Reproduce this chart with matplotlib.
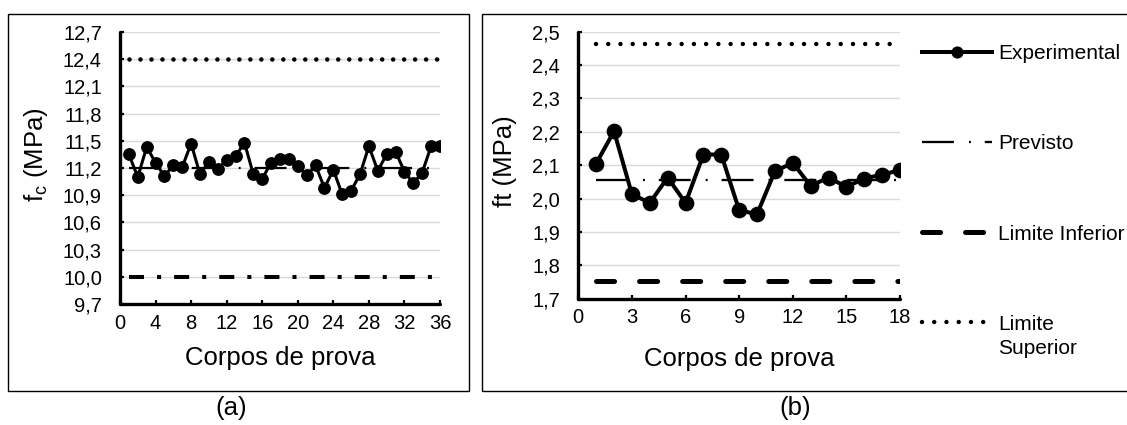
import matplotlib
matplotlib.use('Agg')
import matplotlib.pyplot as plt
from matplotlib.patches import Rectangle

plt.rcParams['font.family'] = ['Liberation Sans', 'DejaVu Sans']
plt.rcParams['mathtext.fontset'] = 'custom'
plt.rcParams['mathtext.rm'] = 'Liberation Sans'
plt.rcParams['mathtext.it'] = 'Liberation Sans:italic'
plt.rcParams['lines.scale_dashes'] = False

# ---------------- data: panel (a) ----------------
corpos_a = list(range(1, 37))
fc_exp = [11.35, 11.10, 11.43, 11.26, 11.11, 11.23, 11.21, 11.47, 11.13, 11.27,
          11.19, 11.29, 11.33, 11.48, 11.13, 11.08, 11.26, 11.30, 11.30, 11.22,
          11.12, 11.23, 10.98, 11.18, 10.91, 10.95, 11.13, 11.44, 11.17, 11.35,
          11.38, 11.16, 11.03, 11.15, 11.44, 11.44]
fc_previsto = 11.2
fc_lim_inf = 10.0
fc_lim_sup = 12.4
xticks_a = [0, 4, 8, 12, 16, 20, 24, 28, 32, 36]
yticks_a = [9.7, 10.0, 10.3, 10.6, 10.9, 11.2, 11.5, 11.8, 12.1, 12.4, 12.7]
ytick_labels_a = ['9,7', '10,0', '10,3', '10,6', '10,9', '11,2', '11,5', '11,8', '12,1', '12,4', '12,7']

# ---------------- data: panel (b) ----------------
corpos_b = list(range(1, 19))
ft_exp = [2.105, 2.202, 2.013, 1.987, 2.063, 1.987, 2.132, 2.132, 1.965, 1.953,
          2.082, 2.107, 2.038, 2.063, 2.035, 2.060, 2.072, 2.085]
ft_previsto = 2.055
ft_lim_inf = 1.752
ft_lim_sup = 2.463
xticks_b = [0, 3, 6, 9, 12, 15, 18]
yticks_b = [1.7, 1.8, 1.9, 2.0, 2.1, 2.2, 2.3, 2.4, 2.5]
ytick_labels_b = ['1,7', '1,8', '1,9', '2,0', '2,1', '2,2', '2,3', '2,4', '2,5']

labels_legend = ['Experimental', 'Previsto', 'Limite Inferior', 'Limite']
xlabel = 'Corpos de prova'

# ---------------- figure ----------------
W, H = 1127, 425
fig = plt.figure(figsize=(W / 100, H / 100), dpi=100)


def fx(px):
    return px / W


def fy(py):
    return 1 - py / H


def rect(x0, y0, x1, y1):
    return [fx(x0), fy(y1), fx(x1) - fx(x0), fy(y0) - fy(y1)]


ax_a = fig.add_axes(rect(120, 32, 440, 304))
ax_b = fig.add_axes(rect(578.3, 31.7, 900, 298.7))

TICK_FS = 14.5
LAB_FS = 18.5
LEG_FS = 15


def style_axes(ax, xlim, ylim, xticks, yticks, ylabels):
    ax.set_xlim(*xlim)
    ax.set_ylim(*ylim)
    ax.set_xticks(xticks)
    ax.set_xticklabels([str(t) for t in xticks])
    ax.set_yticks(yticks)
    ax.set_yticklabels(ylabels)
    for s in ['top', 'right']:
        ax.spines[s].set_visible(False)
    for s in ['left', 'bottom']:
        ax.spines[s].set_linewidth(2.4)
        ax.spines[s].set_color('black')
        ax.spines[s].set_capstyle('round')
    ax.tick_params(axis='both', direction='in', length=3.2, width=1.6,
                   labelsize=TICK_FS, color='black')
    ax.tick_params(axis='y', pad=13)
    ax.tick_params(axis='x', pad=7)
    ax.grid(axis='y', color='#d9d9d9', linewidth=1.0, zorder=0)
    ax.set_axisbelow(True)
    ax.set_xlabel(xlabel, fontsize=LAB_FS)


style_axes(ax_a, (0, 36), (9.7, 12.7), xticks_a, yticks_a, ytick_labels_a)
style_axes(ax_b, (0, 18), (1.7, 2.5), xticks_b, yticks_b, ytick_labels_b)

ax_a.set_ylabel(r'f$_{\mathrm{c}}$ (MPa)', fontsize=LAB_FS)
ax_b.set_ylabel('ft (MPa)', fontsize=LAB_FS)
ax_a.yaxis.set_label_coords(-0.22, 0.55)
ax_b.yaxis.set_label_coords(-0.19, 0.515)
ax_a.xaxis.set_label_coords(0.5, -0.155)
ax_b.xaxis.set_label_coords(0.5, -0.18)

# ---------------- panel (a) lines ----------------
n_a = len(corpos_a)
ax_a.plot(corpos_a, [fc_lim_sup] * n_a, color='black', lw=3.3,
          dashes=(0.01, 7.9), dash_capstyle='round', zorder=3)
ax_a.plot(corpos_a, [fc_lim_inf] * n_a, color='black', lw=2.9,
          dashes=(10.8, 9.4, 2.9, 9.4), dash_capstyle='butt', zorder=3)
ax_a.plot(corpos_a, [fc_previsto] * n_a, color='black', lw=1.6,
          dashes=(23, 10.8, 1.4, 10), dash_capstyle='butt', zorder=3)
ax_a.plot(corpos_a, fc_exp, color='black', lw=2.2, marker='o', markersize=8.2,
          zorder=4)

# ---------------- panel (b) lines ----------------
n_b = len(corpos_b)
l_exp, = ax_b.plot(corpos_b, ft_exp, color='black', lw=2.9, marker='o',
                   markersize=10.3, zorder=4)
l_prev, = ax_b.plot(corpos_b, [ft_previsto] * n_b, color='black', lw=1.66,
                    dashes=(23, 10.8, 1.4, 10), dash_capstyle='butt', zorder=3)
l_inf, = ax_b.plot(corpos_b, [ft_lim_inf] * n_b, color='black', lw=3.6,
                   dashes=(13, 18), dash_capstyle='round', zorder=3)
l_sup, = ax_b.plot(corpos_b, [ft_lim_sup] * n_b, color='black', lw=3.2,
                   dashes=(0.01, 8.8), dash_capstyle='round', zorder=3)

leg = ax_b.legend([l_exp, l_prev, l_inf, l_sup], labels_legend,
                  loc='upper left', bbox_to_anchor=(fx(921.7), fy(44)),
                  bbox_transform=fig.transFigure, frameon=False,
                  fontsize=LEG_FS, handlelength=3.36, handletextpad=0.3,
                  labelspacing=3.42, borderaxespad=0, borderpad=0,
                  markerscale=0.75)

# ---------------- boxes and panel labels ----------------
fig.add_artist(Rectangle((fx(8), fy(391)), fx(469) - fx(8), fy(14) - fy(391),
                         transform=fig.transFigure, fill=False, lw=1.0,
                         ec='black'))
fig.add_artist(Rectangle((fx(482), fy(391)), fx(1135) - fx(482), fy(14) - fy(391),
                         transform=fig.transFigure, fill=False, lw=1.0,
                         ec='black'))
fig.text(fx(231), fy(408), '(a)', ha='center', va='center', fontsize=LAB_FS)
fig.text(fx(795), fy(408), '(b)', ha='center', va='center', fontsize=LAB_FS)

# second line of the last legend label, right under "Limite"
fig.canvas.draw()
bb = leg.get_texts()[3].get_window_extent()
fig.text(bb.x0 / W, (bb.y0 - 24) / H, 'Superior', ha='left', va='bottom',
         fontsize=LEG_FS)

fig.savefig('out.png', dpi=100)
